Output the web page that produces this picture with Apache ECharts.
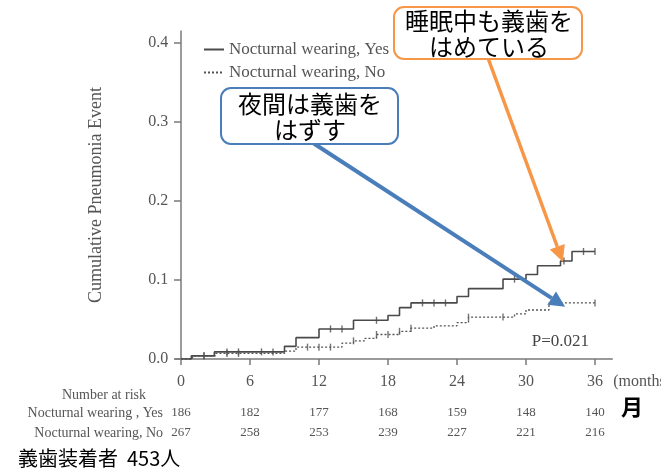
<!DOCTYPE html>
<html>
<head>
<meta charset="utf-8">
<script src="https://cdn.jsdelivr.net/npm/echarts@6/dist/echarts.min.js"></script>
<style>
  html, body { margin: 0; padding: 0; background: #fff; }
  #chart { width: 661px; height: 474px; }
</style>
</head>
<body>
<div id="chart"></div>
<script>
// Follow-up months and cumulative-event tick values
const monthTicks = [0, 6, 12, 18, 24, 30, 36];
const yTicks = [0, 0.1, 0.2, 0.3, 0.4];

// Kaplan–Meier style cumulative pneumonia events, nocturnal wearing = Yes
const timesYes = [0, 0.9, 2.9, 9, 10, 12, 15, 18, 19, 20, 24, 25, 28, 30, 31, 33, 34, 36];
const cumYes   = [0, 0.004, 0.009, 0.016, 0.027, 0.038, 0.049, 0.055, 0.065, 0.071, 0.079, 0.089, 0.101, 0.107, 0.118, 0.124, 0.136, 0.136];
const censorYes = [2, 4, 5, 7, 8, 13, 14, 17, 21, 22, 23, 29, 33.3, 35, 36];

// nocturnal wearing = No
const timesNo = [0, 1, 3, 9, 10, 14, 15, 16, 17, 19, 20, 22, 24, 25, 29, 30, 32, 36];
const cumNo   = [0, 0.004, 0.007, 0.010, 0.015, 0.020, 0.023, 0.026, 0.031, 0.035, 0.039, 0.042, 0.046, 0.053, 0.057, 0.062, 0.071, 0.071];
const censorNo = [2, 4, 5, 11, 12, 13, 15, 17, 18, 19, 20, 25, 28, 36];

// Number at risk at each tick month
const riskYes = [186, 182, 177, 168, 159, 148, 140];
const riskNo  = [267, 258, 253, 239, 227, 221, 216];

const seriesNames = ['Nocturnal wearing, Yes', 'Nocturnal wearing, No'];
const riskRowLabels = ['Nocturnal wearing , Yes', 'Nocturnal wearing, No'];
const pValueText = 'P=0.021';

// Callout anchors (data space) for the two arrows
const noteNo  = { text: '夜間は義歯を\nはずす', tip: [33.4, 0.066] };
const noteYes = { text: '睡眠中も義歯を\nはめている', tip: [33.2, 0.123] };

const SERIF = '"Liberation Serif", "Times New Roman", serif';
const CJK = '"Noto Sans CJK JP", sans-serif';
const INK = '#4a4a4a';
const AXIS = '#7a7a7a';

function stepAt(times, cum, t) {
  let v = 0;
  for (let i = 0; i < times.length; i++) if (times[i] <= t) v = cum[i];
  return v;
}

const chart = echarts.init(document.getElementById('chart'));

chart.setOption({
  animation: false,
  backgroundColor: '#fff',
  grid: { left: 175.25, right: 48.75, top: 31, bottom: 115, outerBoundsMode: 'none' },
  legend: {
    data: seriesNames,
    orient: 'vertical',
    left: 198,
    top: 36,
    itemWidth: 20,
    itemHeight: 14,
    itemGap: 6,
    itemStyle: { opacity: 0 },
    textStyle: { fontFamily: SERIF, fontSize: 17, color: '#555', lineHeight: 14 }
  },
  xAxis: {
    type: 'value',
    min: -0.5,
    max: 37.5,
    splitLine: { show: false },
    axisLine: { lineStyle: { color: AXIS, width: 1.5 } },
    axisTick: { customValues: monthTicks, length: 6, lineStyle: { color: AXIS, width: 1.5 } },
    axisLabel: { customValues: monthTicks, fontFamily: SERIF, fontSize: 16, color: '#555', margin: 15 }
  },
  yAxis: {
    type: 'value',
    min: 0,
    max: 0.415,
    splitLine: { show: false },
    name: 'Cumulative Pneumonia Event',
    nameLocation: 'middle',
    nameGap: 70,
    nameTextStyle: { fontFamily: SERIF, fontSize: 18, color: '#555' },
    axisLine: { show: true, onZero: true, lineStyle: { color: AXIS, width: 1.5 } },
    axisTick: { show: true, customValues: yTicks, length: 7, lineStyle: { color: AXIS, width: 1.5 } },
    axisLabel: { customValues: yTicks, formatter: v => v.toFixed(1), fontFamily: SERIF, fontSize: 16, color: '#555', margin: 7 }
  },
  series: [
    {
      name: seriesNames[0], type: 'line', step: 'end', symbol: 'none', z: 4,
      data: timesYes.map((t, i) => [t, cumYes[i]]),
      lineStyle: { color: INK, width: 1.6 },
      itemStyle: { color: INK }
    },
    {
      name: seriesNames[1], type: 'line', step: 'end', symbol: 'none', z: 3,
      data: timesNo.map((t, i) => [t, cumNo[i]]),
      lineStyle: { color: '#555', width: 1.3, type: [2, 2] },
      itemStyle: { color: '#555' }
    },
    {
      name: 'censor-yes', type: 'scatter', symbol: 'rect', symbolSize: [1.4, 7], silent: true, z: 5,
      data: censorYes.map(t => [t, stepAt(timesYes, cumYes, t)]),
      itemStyle: { color: INK }
    },
    {
      name: 'censor-no', type: 'scatter', symbol: 'rect', symbolSize: [1.4, 7], silent: true, z: 5,
      data: censorNo.map(t => [t, stepAt(timesNo, cumNo, t)]),
      itemStyle: { color: '#555' }
    }
  ]
});

function px(t, v) { return chart.convertToPixel({ xAxisIndex: 0, yAxisIndex: 0 }, [t, v]); }

function arrow(from, to, color, width, headLen, headHalf) {
  const dx = to[0] - from[0], dy = to[1] - from[1];
  const len = Math.hypot(dx, dy), ux = dx / len, uy = dy / len;
  const bx = to[0] - ux * headLen, by = to[1] - uy * headLen;
  return [
    { type: 'line', z: 20, shape: { x1: from[0], y1: from[1], x2: bx, y2: by },
      style: { stroke: color, lineWidth: width } },
    { type: 'polygon', z: 20, shape: { points: [to, [bx - uy * headHalf, by + ux * headHalf], [bx + uy * headHalf, by - ux * headHalf]] },
      style: { fill: color } }
  ];
}

const riskY0 = 413, riskY1 = 433;
const graphics = [];

// Number-at-risk table
graphics.push({ type: 'text', style: { text: 'Number at risk', x: 104, y: 395, align: 'center', verticalAlign: 'middle', font: '14px ' + SERIF, fill: '#555' } });
graphics.push({ type: 'text', style: { text: riskRowLabels[0], x: 163, y: riskY0, align: 'right', verticalAlign: 'middle', font: '14px ' + SERIF, fill: '#555' } });
graphics.push({ type: 'text', style: { text: riskRowLabels[1], x: 163, y: riskY1, align: 'right', verticalAlign: 'middle', font: '14px ' + SERIF, fill: '#555' } });
monthTicks.forEach((m, i) => {
  const x = px(m, 0)[0];
  graphics.push({ type: 'text', style: { text: String(riskYes[i]), x, y: riskY0, align: 'center', verticalAlign: 'middle', font: '13px ' + SERIF, fill: '#555' } });
  graphics.push({ type: 'text', style: { text: String(riskNo[i]), x, y: riskY1, align: 'center', verticalAlign: 'middle', font: '13px ' + SERIF, fill: '#555' } });
});

// Axis unit, p-value, footer
const xEnd = px(37.5, 0)[0];
graphics.push({ type: 'text', style: { text: '(months)', x: xEnd + 1, y: px(0, 0)[1] + 23, align: 'left', verticalAlign: 'middle', font: '16px ' + SERIF, fill: '#555' } });
graphics.push({ type: 'text', style: { text: '月', x: 632, y: 407, align: 'center', verticalAlign: 'middle', font: 'bold 22px ' + CJK, fill: '#000' } });
graphics.push({ type: 'text', style: { text: pValueText, x: 589, y: 342, align: 'right', verticalAlign: 'middle', font: '17px ' + SERIF, fill: '#444' } });
graphics.push({ type: 'text', style: { text: '義歯装着者  453人', x: 18, y: 458, align: 'left', verticalAlign: 'middle', font: '20px ' + CJK, fill: '#000' } });

// Callout arrows
graphics.push(...arrow([310, 141], px(noteNo.tip[0], noteNo.tip[1]), '#4A7EBB', 4, 16, 8));
graphics.push(...arrow([488, 58], px(noteYes.tip[0], noteYes.tip[1]), '#F79646', 3.5, 16, 8));

// Callout boxes
graphics.push({ type: 'rect', z: 21, shape: { x: 221, y: 88, width: 177, height: 56, r: 10 }, style: { fill: '#fff', stroke: '#4A7EBB', lineWidth: 2 } });
graphics.push({ type: 'text', z: 22, style: { text: noteNo.text, x: 310, y: 117, align: 'center', verticalAlign: 'middle', font: '24px ' + CJK, lineHeight: 26, fill: '#000' } });
graphics.push({ type: 'rect', z: 21, shape: { x: 394, y: 7, width: 188, height: 52, r: 10 }, style: { fill: '#fff', stroke: '#F79646', lineWidth: 2 } });
graphics.push({ type: 'text', z: 22, style: { text: noteYes.text, x: 489, y: 34, align: 'center', verticalAlign: 'middle', font: '24px ' + CJK, lineHeight: 26, fill: '#000' } });

chart.setOption({ graphic: graphics });
</script>
</body>
</html>
